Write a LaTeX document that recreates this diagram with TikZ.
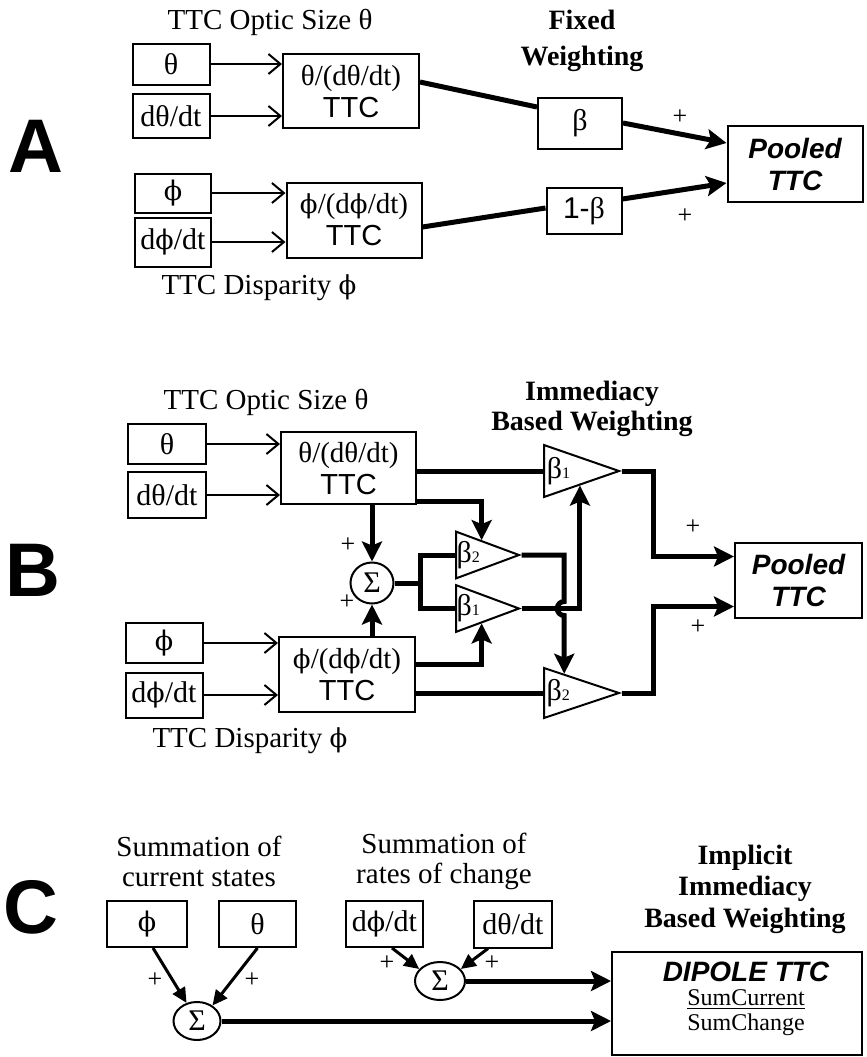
\documentclass[tikz,border=0pt]{standalone}
\usepackage{fontspec}
\setmainfont{Liberation Serif}
\setsansfont{Liberation Sans}
\newfontfamily\phifont{DejaVu Serif}[Scale=0.9]
\newcommand{\ph}{{\phifont ϕ}}
\usetikzlibrary{arrows.meta,positioning,shapes.geometric,calc}

\begin{document}
\begin{tikzpicture}[x=0.5pt,y=-0.5pt,
    box/.style={draw,line width=1pt,inner sep=0pt,font=\fontsize{15}{17}\selectfont},
    ttc/.style={box,align=center,font=\fontsize{14.5}{16}\selectfont},
    pool/.style={box,align=center,font=\fontsize{14}{16}\sffamily\bfseries\itshape},
    amp/.style={draw,line width=1pt,isosceles triangle,isosceles triangle stretches,
        inner sep=0pt,anchor=lower side,font=\fontsize{15}{17}\selectfont},
    sum/.style={draw,line width=1pt,ellipse,inner sep=0pt,font=\fontsize{15}{17}\selectfont},
    title/.style={font=\fontsize{14.5}{15}\selectfont,align=center},
    wtitle/.style={font=\fontsize{14}{15}\selectfont\bfseries,align=center},
    panel/.style={font=\fontsize{38}{40}\sffamily\bfseries},
    plus/.style={font=\fontsize{13}{13}\selectfont},
    feed/.style={line width=1pt,-{Straight Barb[length=6pt,width=10pt]}},
    fat/.style={line width=2.5pt},
    fatarr/.style={fat,-{Stealth[length=10pt,width=10pt,inset=2pt]}},
    diag/.style={line width=1.5pt,-{Triangle[length=7.5pt,width=7pt]}}
]
\useasboundingbox (0,0) rectangle (867,1057);

% panel A: fixed weighting
\node[panel] (pa) at (36,146) {A};
\node[title] (optA) at (270,22) {TTC Optic Size θ};
\node[box,minimum width=38.5pt,minimum height=20.5pt] (thA) at (171,64) {θ};
\node[box,minimum width=38.5pt,minimum height=22pt] (dthA) at (171,116) {dθ/dt};
\node[ttc,minimum width=68pt,minimum height=37pt] (ttcA1) at (351,91)
    {θ/(dθ/dt)\\{\sffamily TTC}};
\node[box,minimum width=38pt,minimum height=19.5pt] (phA) at (173,193) {\ph};
\node[box,minimum width=38pt,minimum height=24.5pt] (dphA) at (173,242) {d\ph/dt};
\node[ttc,minimum width=67.5pt,minimum height=37.5pt] (ttcA2) at (354,220)
    {\ph/(d\ph/dt)\\{\sffamily TTC}};
\node[title] (dispA) at (259,288) {TTC Disparity \ph};
\node[wtitle,font=\fontsize{14}{18}\selectfont\bfseries] (fixA) at (582,41) {Fixed\\Weighting};
\node[box,minimum width=42pt,minimum height=25.5pt] (betaA) at (580,123) {β};
\node[box,minimum width=37.5pt,minimum height=23pt] (ombA) at (584,211) {{\sffamily 1-}β};
\node[pool,minimum width=67.5pt,minimum height=38pt] (poolA) at (795,164) {Pooled\\TTC};
\node[plus] (pA1) at (680,117) {+};
\node[plus] (pA2) at (685,216) {+};

\draw[feed] (thA.east) -- (thA.east -| ttcA1.west);
\draw[feed] (dthA.east) -- (dthA.east -| ttcA1.west);
\draw[feed] (phA.east) -- (phA.east -| ttcA2.west);
\draw[feed] (dphA.east) -- (dphA.east -| ttcA2.west);
\draw[fat] ($(ttcA1.east)+(0,-9)$) -- ($(betaA.west)+(0,-16)$);
\draw[fatarr] (betaA.east) -- ($(poolA.west)+(0,-21)$);
\draw[fat] ($(ttcA2.east)+(0,7)$) -- ($(ombA.west)+(0,-3)$);
\draw[fatarr] ($(ombA.east)+(0,-12)$) -- ($(poolA.west)+(0,19)$);

% panel B: immediacy based weighting
\node[panel] (pb) at (33,570) {B};
\node[title] (optB) at (266,402) {TTC Optic Size θ};
\node[box,minimum width=39pt,minimum height=20pt] (thB) at (167,444) {θ};
\node[box,minimum width=39pt,minimum height=23pt] (dthB) at (167,495) {dθ/dt};
\node[ttc,minimum width=67.5pt,minimum height=36pt] (ttcB1) at (348.5,468)
    {θ/(dθ/dt)\\{\sffamily TTC}};
\node[box,minimum width=38.5pt,minimum height=20pt] (phB) at (164,643) {\ph};
\node[box,minimum width=38.5pt,minimum height=22.5pt] (dphB) at (164,695) {d\ph/dt};
\node[ttc,minimum width=68pt,minimum height=37.5pt] (ttcB2) at (347,674.5)
    {\ph/(d\ph/dt)\\{\sffamily TTC}};
\node[title] (dispB) at (250,741) {TTC Disparity \ph};
\node[wtitle] (wB) at (592,409) {Immediacy\\Based Weighting};
\node[sum,minimum width=21.5pt,minimum height=20.5pt] (sumB) at (372,583) {Σ};
\node[amp,minimum height=37.5pt,minimum width=26pt] (b1t) at (543,471) {β{\footnotesize 1}};
\node[amp,minimum height=31.5pt,minimum width=22pt] (b2m) at (455,555) {β{\footnotesize 2}};
\node[amp,minimum height=31.5pt,minimum width=21.5pt] (b1m) at (455,608.5) {β{\footnotesize 1}};
\node[amp,minimum height=37.5pt,minimum width=25pt] (b2b) at (543,693) {β{\footnotesize 2}};
\node[pool,minimum width=63.5pt,minimum height=37.5pt] (poolB) at (798.5,580.5) {Pooled\\TTC};
\node[plus] (pB1) at (348,545) {+};
\node[plus] (pB2) at (347,602) {+};
\node[plus] (pB3) at (693,527) {+};
\node[plus] (pB4) at (698,627) {+};
\coordinate (fork) at (420,583);
\coordinate (b2in) at ($(b2b.left corner)!0.27!(b2b.apex)$);
\coordinate (hop) at (b2in |- b1m.apex);

\draw[feed] (thB.east) -- (thB.east -| ttcB1.west);
\draw[feed] (dthB.east) -- (dthB.east -| ttcB1.west);
\draw[feed] (phB.east) -- (phB.east -| ttcB2.west);
\draw[feed] (dphB.east) -- (dphB.east -| ttcB2.west);
\draw[fat] (ttcB1.east |- b1t.west) -- (b1t.west);
\draw[fatarr] ($(ttcB1.south east)+(0,-4)$) -| ($(b2m.left corner)!0.4!(b2m.apex)$);
\draw[fatarr] (sumB.north |- ttcB1.south) -- (sumB.north);
\draw[fatarr] (sumB.south |- ttcB2.north) -- (sumB.south);
\draw[fat] (sumB.east) -- (fork) |- (b2m.west);
\draw[fat] (fork) |- (b1m.west);
\draw[fatarr] ($(ttcB2.north east)+(0,28)$) -| ($(b1m.right corner)!0.4!(b1m.apex)$);
\draw[fat] (ttcB2.east |- b2b.west) -- (b2b.west);
\draw[fatarr] (b1m.apex) -| ($(b1t.right corner)!0.47!(b1t.apex)$);
\draw[fatarr] (b2m.apex) -| ($(hop)+(0,-7)$)
    arc[start angle=90,end angle=270,radius=3.5pt] -- (b2in);
\draw[fatarr] (b1t.apex) -- ++(32,0) |- ($(poolB.west)+(0,-24)$);
\draw[fatarr] (b2b.apex) -- ++(32,0) |- ($(poolB.west)+(0,26)$);

% panel C: dipole
\node[panel] (pc) at (31,907) {C};
\node[title] (scA) at (199,861) {Summation of\\current states};
\node[title] (scB) at (444,861) {Summation of\\rates of change};
\node[wtitle,font=\fontsize{14}{15.75}\selectfont\bfseries] (wC) at (745,889)
    {Implicit\\Immediacy\\Based Weighting};
\node[box,minimum width=40pt,minimum height=23pt] (phC) at (147,924) {\ph};
\node[box,minimum width=38.5pt,minimum height=23pt] (thC) at (257.5,924) {θ};
\node[box,minimum width=38.5pt,minimum height=23pt] (dphC) at (384.5,924) {d\ph/dt};
\node[box,minimum width=39pt,minimum height=23.5pt] (dthC) at (513,924) {dθ/dt};
\node[sum,minimum width=23.5pt,minimum height=19pt] (sumC1) at (197,1021) {Σ};
\node[sum,minimum width=25pt,minimum height=19pt] (sumC2) at (440,981) {Σ};
\node[draw,line width=1pt,minimum width=125pt,minimum height=51.5pt] (dip) at (737,1003.5) {};
\node[font=\fontsize{14}{16}\sffamily\bfseries\itshape] (dipT) at (746,972) {DIPOLE TTC};
\node[font=\fontsize{12}{14}\selectfont] (dipN) at (746,1000) {\underline{SumCurrent}};
\node[font=\fontsize{12}{14}\selectfont] (dipD) at (746,1025) {SumChange};
\node[plus] (pC1) at (155,980) {+};
\node[plus] (pC2) at (252,980) {+};
\node[plus] (pC3) at (387,963) {+};
\node[plus] (pC4) at (492,963) {+};

\draw[diag] ($(phC.south)+(6,0)$) -- (sumC1.120);
\draw[diag] (thC.south) -- (sumC1.45);
\draw[diag] ($(dphC.south)+(7.5,0)$) -- (sumC2.150);
\draw[diag] ($(dthC.south)+(-25,0)$) -- (sumC2.30);
\draw[fatarr] (sumC2.east) -- (sumC2.east -| dip.west);
\draw[fatarr] (sumC1.east) -- (sumC1.east -| dip.west);
\end{tikzpicture}
\end{document}
